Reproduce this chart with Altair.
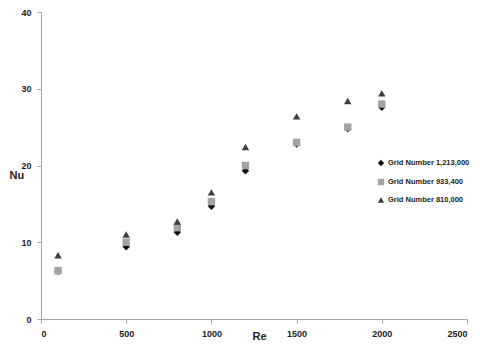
import altair as alt
import pandas as pd

re_vals = [100, 500, 800, 1000, 1200, 1500, 1800, 2000]
nu_1213000 = [6.2, 9.4, 11.3, 14.7, 19.3, 22.8, 24.8, 27.6]
nu_933400 = [6.3, 10.0, 11.9, 15.3, 20.0, 23.0, 25.0, 28.0]
nu_810000 = [8.3, 11.0, 12.7, 16.5, 22.4, 26.4, 28.4, 29.4]
series = ["Grid Number 1,213,000", "Grid Number 933,400", "Grid Number 810,000"]

rows = []
for name, vals in zip(series, [nu_1213000, nu_933400, nu_810000]):
    for r, v in zip(re_vals, vals):
        rows.append({"Re": r, "Nu": v, "Series": name})
df = pd.DataFrame(rows)

FONT = "Liberation Sans"

leg = alt.Legend(title=None, orient="none", legendX=336, legendY=147, labelLimit=0)

chart = alt.Chart(df).mark_point(filled=True, opacity=1, size=55).encode(
    x=alt.X("Re:Q", scale=alt.Scale(domain=[0, 2500], nice=False),
            axis=alt.Axis(values=[0, 500, 1000, 1500, 2000, 2500], grid=False, format="d",
                          title="Re", titleX=218, titleY=17, titleAngle=0,
                          titleBaseline="middle", titleAlign="center")),
    y=alt.Y("Nu:Q", scale=alt.Scale(domain=[0, 40], nice=False),
            axis=alt.Axis(values=[0, 10, 20, 30, 40], grid=False, format="d",
                          title="Nu", titleAngle=0, titleX=-32, titleY=163,
                          titleAlign="left", titleBaseline="middle")),
    color=alt.Color("Series:N", scale=alt.Scale(domain=series, range=["#111111", "#a3a3a3", "#3d3d3d"]),
                    legend=leg),
    shape=alt.Shape("Series:N", scale=alt.Scale(domain=series, range=["diamond", "square", "triangle-up"]),
                    legend=leg),
).properties(
    width=426, height=307,
    autosize=alt.AutoSizeParams(type="none"),
    padding={"left": 33, "top": 4, "right": 5, "bottom": 31},
).configure_view(stroke=None).configure_axis(
    domainColor="#a6a6a6", tickColor="#a6a6a6", tickSize=4,
    labelFont=FONT, labelFontSize=9, labelColor="#222222", labelFontWeight="bold",
    titleFont=FONT, titleFontSize=11, titleColor="#222222", titleFontWeight="bold",
    labelPadding=6,
).configure_legend(
    labelFont=FONT, labelFontSize=7.5, labelColor="#222222", labelFontWeight="bold",
    symbolSize=40, rowPadding=5, symbolOpacity=1, labelOffset=3,
)

chart.save("out.html", embed_options={"renderer": "svg", "actions": False})
